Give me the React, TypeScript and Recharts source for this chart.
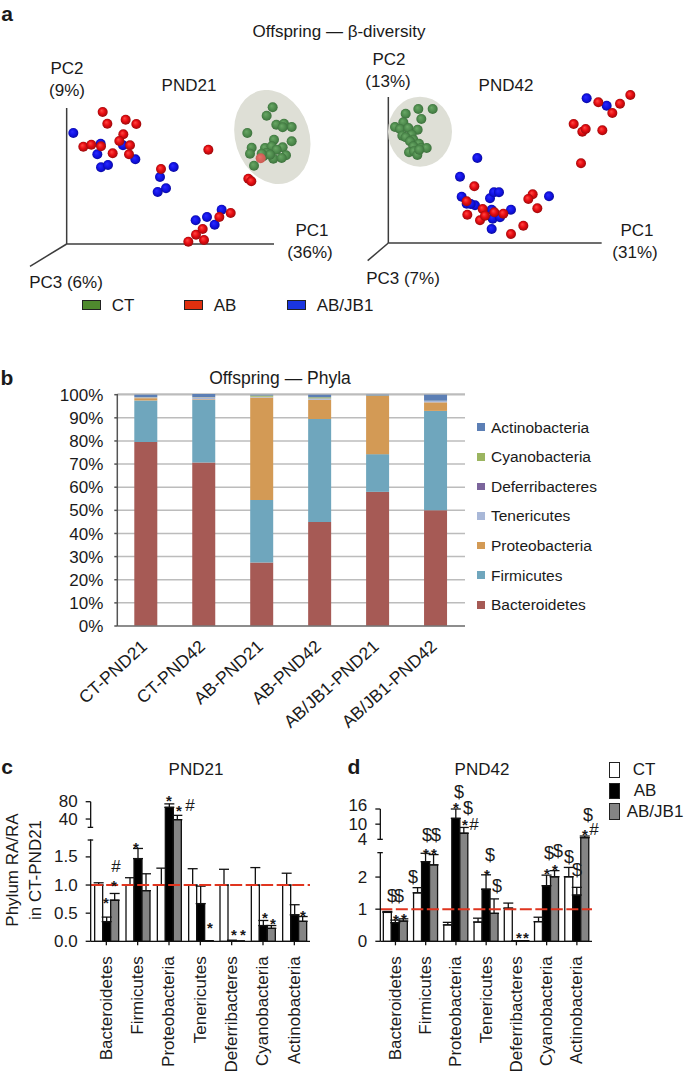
import React from 'react';
import {
  Bar, BarChart, CartesianGrid, ErrorBar, ReferenceLine, Scatter, ScatterChart, XAxis, YAxis,
} from 'recharts';

const FONT = '"Liberation Sans", Arial, sans-serif';

// panel a, ordination scores
const red21 = [[108,396],[122,361],[177,373],[209,360],[170,329],[158,309],[190,296],[138,272],[187,269],[50,292],[74,298],[103,293],[283,225],[425,283],[545,196],[554,188],[365,7],[388,28],[412,12],[408,45],[458,81],[492,93]];
const blue21 = [[20,333],[102,301],[169,296],[92,269],[206,254],[103,230],[124,237],[321,231],[280,201],[298,167],[273,156],[387,71],[421,81],[465,103],[444,58]];
const green21 = [[618,410],[600,385],[629,358],[652,361],[675,351],[648,350],[542,333],[622,313],[675,308],[555,289],[550,271],[595,288],[648,290],[615,293],[600,273],[630,283],[658,266],[620,256],[645,258],[562,235],[590,263],[610,268],[585,271]];
const faded21 = [[582,257]];
const cloud21 = [[617,321]];

const red42 = [[726,444],[630,422],[695,418],[672,390],[556,357],[582,334],[592,342],[642,338],[578,239],[258,170],[433,146],[420,132],[447,104],[405,52],[368,27],[235,125],[237,85],[275,68],[283,102],[290,82],[318,92],[345,88]];
const blue42 = [[595,434],[655,412],[267,255],[215,199],[220,139],[235,118],[260,113],[247,117],[305,134],[317,152],[332,152],[482,140],[368,100],[310,100],[313,73],[335,77],[310,42]];
const green42 = [[133,402],[90,402],[52,388],[99,372],[45,362],[20,348],[35,342],[60,345],[88,340],[42,322],[70,325],[52,317],[75,310],[65,305],[92,298],[75,290],[98,285],[115,285],[62,272],[77,275],[87,264],[93,280]];
const cloud42 = [[95,334]];

// panel b
const samples = ['CT-PND21', 'CT-PND42', 'AB-PND21', 'AB-PND42', 'AB/JB1-PND21', 'AB/JB1-PND42'];
const phyla = ['Bacteroidetes', 'Firmicutes', 'Proteobacteria', 'Tenericutes', 'Deferribacteres', 'Cyanobacteria', 'Actinobacteria'];
const phylaColors = ['#a65a55', '#6fa6bd', '#d39a55', '#a9b8d8', '#7b659c', '#9bb560', '#5c7fb5'];
const bacteroidetes = [79.5, 70.7, 27.5, 45, 58, 50];
const firmicutes = [18, 27, 27, 44.5, 16.3, 43];
const proteobacteria = [1, 0.3, 44.3, 8.3, 25.2, 3.7];
const tenericutes = [0.3, 0.8, 0.3, 0.5, 0.1, 0.6];
const deferribacteres = [0.1, 0.1, 0, 0.1, 0, 0];
const cyanobacteria = [0.1, 0.1, 0.5, 0.5, 0.1, 0.1];
const actinobacteria = [1, 1.3, 0.4, 1.1, 0.3, 2.6];
const shares = [bacteroidetes, firmicutes, proteobacteria, tenericutes, deferribacteres, cyanobacteria, actinobacteria];
const percentTicks = [0, 10, 20, 30, 40, 50, 60, 70, 80, 90, 100];
const stackData = samples.map((sample, i) => {
  const row: any = { sample };
  phyla.forEach((p, k) => { row[p] = shares[k][i]; });
  return row;
});

// panels c and d, same order as phyla
const ct21 = [1, 1, 1, 1, 1, 1, 1];
const ct21Err = [0.04, 0.13, 0.3, 0.29, 0.28, 0.31, 0.21];
const ab21 = [0.35, 1.47, 67, 0.67, 0.015, 0.28, 0.47];
const ab21Err = [0.08, 0.18, 8, 0.31, 0, 0.09, 0.18];
const jb21 = [0.73, 0.9, 38.5, 0.01, 0.003, 0.23, 0.355];
const jb21Err = [0.12, 0.3, 10, 0, 0, 0.05, 0.085];

const ct42 = [0.9, 1.51, 0.51, 0.6, 1.03, 0.61, 2.01];
const ct42Err = [0.03, 0.16, 0.08, 0.12, 0.16, 0.14, 0.29];
const ab42 = [0.58, 2.48, 12.3, 1.62, 0.01, 1.73, 1.44];
const ab42Err = [0.08, 0.26, 3.7, 0.45, 0, 0.33, 0.24];
const jb42 = [0.63, 2.38, 6.4, 0.87, 0.02, 2.01, 4.66];
const jb42Err = [0.07, 0.32, 2.3, 0.45, 0, 0.19, 0.64];

const ticks21 = [0, 0.5, 1, 1.5, 1.8, 20.8, 40, 80];
const tickLabels21 = ['0.0', '0.5', '1.0', '1.5', '', '', '40', '80'];
const ticks42 = [0, 1, 2, 2.76, 4, 10, 16];
const tickLabels42 = ['0', '1', '2', '', '4', '10', '16'];

// value -> share of the plot height, the axis is cut between the 2nd and 3rd knot
const knots21 = [[0, 0], [1.8, 0.7255], [20.8, 0.8162], [80, 1]];
const knots42 = [[0, 0], [2.76, 0.67], [4, 0.7708], [16, 1]];

const groupRows = (a: number[], aE: number[], b: number[], bE: number[], c: number[], cE: number[]) =>
  phyla.map((name, i) => ({
    name,
    ct: a[i], ctErr: [0, aE[i]],
    ab: b[i], abErr: [0, bE[i]],
    jb: c[i], jbErr: [0, cE[i]],
  }));

const data21 = groupRows(ct21, ct21Err, ab21, ab21Err, jb21, jb21Err);
const data42 = groupRows(ct42, ct42Err, ab42, ab42Err, jb42, jb42Err);

// annotations: [x, y] in page pixels
const starsC = [[106,899],[114,882],[136,844],[169,797],[179,807],[210,924],[234,931],[243,931],[265,914],[273,920],[303,912]];
const hashC = [[116,866],[190,805]];
const starsD = [[396,916],[404,915],[426,850],[434,850],[456,804],[465,821],[487,871],[519,934],[526,934],[547,870],[555,866],[585,831]];
const hashD = [[474,824],[594,829]];
const dollarsD = [[392,896],[399,896],[413,877],[427,835],[436,835],[459,792],[468,808],[490,855],[497,886],[549,853],[558,851],[569,857],[577,870],[588,815]];

const Txt = ({ x, y, s = 17, rot = 0, bold = false, children }: any) => (
  <div
    style={{
      position: 'absolute', left: x, top: y, fontFamily: FONT, fontSize: s, fontWeight: bold ? 700 : 400,
      lineHeight: 1, whiteSpace: 'nowrap', color: '#1a1a1a',
      transform: `translate(-50%, -50%) rotate(${rot}deg)`,
    }}
  >
    {children}
  </div>
);

const Box = ({ x, y, w, h, fill }: any) => (
  <div style={{ position: 'absolute', left: x, top: y, width: w, height: h, background: fill, border: '1.3px solid #222', boxSizing: 'border-box' }} />
);

const ball = (fillId: string, r: number) => (p: any) => <circle cx={p.cx} cy={p.cy} r={r} fill={`url(#${fillId})`} />;
const cloudShape = (rx: number, ry: number, rot: number) => (p: any) => (
  <ellipse cx={p.cx} cy={p.cy} rx={rx} ry={ry} fill="#dedfd6" transform={`rotate(${rot} ${p.cx} ${p.cy})`} />
);
const pts = (list: number[][]) => list.map(([x, y]) => ({ x, y }));

const axisStyle = { stroke: '#3c3c3c', strokeWidth: 1.5 };

const Ordination = ({ left, width, xDomain, yDomain, pc1, pc2, pc3, cloud, cloudProps, green, faded, red, blue }: any) => (
  <div style={{ position: 'absolute', left, top: 90 }}>
    <ScatterChart width={width} height={200} margin={{ top: 0, right: 0, bottom: 0, left: 0 }}>
      <XAxis type="number" dataKey="x" domain={xDomain} hide />
      <YAxis type="number" dataKey="y" domain={yDomain} hide />
      <Scatter data={pts(cloud)} shape={cloudShape(cloudProps[0], cloudProps[1], cloudProps[2])} isAnimationActive={false} />
      <ReferenceLine segment={[{ x: 0, y: 0 }, { x: pc1, y: 0 }]} {...axisStyle} />
      <ReferenceLine segment={[{ x: 0, y: 0 }, { x: 0, y: pc2 }]} {...axisStyle} />
      <ReferenceLine segment={[{ x: 0, y: 0 }, { x: pc3[0], y: pc3[1] }]} ifOverflow="visible" {...axisStyle} />
      <Scatter data={pts(green)} shape={ball('ballGreen', 5)} isAnimationActive={false} />
      {faded && <Scatter data={pts(faded)} shape={ball('ballFaded', 5)} isAnimationActive={false} />}
      <Scatter data={pts(blue)} shape={ball('ballBlue', 5)} isAnimationActive={false} />
      <Scatter data={pts(red)} shape={ball('ballRed', 5)} isAnimationActive={false} />
    </ScatterChart>
  </div>
);

// d3-like piecewise scale so one axis can carry both parts of the cut axis
function brokenScale(knots: number[][], rng: number[] = [0, 1]): any {
  const scale: any = (v: number) => {
    let k = 0;
    while (k < knots.length - 2 && v > knots[k + 1][0]) k++;
    const [v0, f0] = knots[k];
    const [v1, f1] = knots[k + 1];
    const f = f0 + ((v - v0) / (v1 - v0)) * (f1 - f0);
    return rng[0] + f * (rng[1] - rng[0]);
  };
  scale.domain = (d?: number[]) => (d ? scale : [knots[0][0], knots[knots.length - 1][0]]);
  scale.range = (r?: number[]) => {
    if (!r) return rng;
    rng = r;
    return scale;
  };
  scale.copy = () => brokenScale(knots, rng.slice());
  scale.ticks = () => knots.map((k) => k[0]);
  return scale;
}

const cutAxisTick = (axisX: number, values: number[], labels: string[], cuts: number[], cutPx: number) => (p: any) => {
  const v = p.payload.value;
  const isCut = cuts.includes(v);
  // the top label of panel d sits a little above its tick
  const labelY = v === 16 ? p.y - 3.5 : p.y;
  return (
    <g>
      {v === cuts[0] && <line x1={axisX} x2={axisX} y1={p.y - 0.6} y2={p.y - cutPx + 0.6} stroke="#fff" strokeWidth={3} />}
      <line x1={axisX - (isCut ? 3 : 5)} x2={axisX + (isCut ? 2.5 : 0)} y1={p.y} y2={p.y} stroke="#111" strokeWidth={1.3} />
      <text x={axisX - 13} y={labelY} textAnchor="end" dominantBaseline="central" fontFamily={FONT} fontSize={17} fill="#1a1a1a">
        {labels[values.indexOf(v)]}
      </text>
    </g>
  );
};

const verticalTick = (p: any) => (
  <text
    x={p.x} y={p.y + 9} textAnchor="end" dominantBaseline="central" fontFamily={FONT} fontSize={17} fill="#1a1a1a"
    transform={`rotate(-90 ${p.x} ${p.y + 9})`}
  >
    {p.payload.value}
  </text>
);

const slantedTick = (p: any) => (
  <text
    x={p.x + 2} y={p.y + 14} textAnchor="end" fontFamily={FONT} fontSize={17.5} fill="#1a1a1a"
    transform={`rotate(-42 ${p.x + 2} ${p.y + 14})`}
  >
    {p.payload.value}
  </text>
);

const GroupBars = ({ left, top, width, height, marginTop, marginRight, axisW, xAxisH, data, knots, values, labels, cuts, cutPx, domain }: any) => (
  <div style={{ position: 'absolute', left, top }}>
    <BarChart
      width={width} height={height} data={data} barSize={8} barGap={0}
      margin={{ top: marginTop, right: marginRight, bottom: 0, left: 0 }}
    >
      <XAxis dataKey="name" interval={0} height={xAxisH} tick={verticalTick} tickSize={4} stroke="#111" strokeWidth={1.3} />
      <YAxis
        width={axisW} domain={domain} scale={brokenScale(knots)} ticks={values} interval={0} tickLine={false}
        stroke="#111" strokeWidth={1.3} tick={cutAxisTick(axisW, values, labels, cuts, cutPx)}
      />
      <Bar dataKey="ct" fill="#fff" stroke="#111" strokeWidth={1.3} isAnimationActive={false}>
        <ErrorBar dataKey="ctErr" direction="y" width={5} stroke="#111" strokeWidth={1.3} isAnimationActive={false} />
      </Bar>
      <Bar dataKey="ab" fill="#000" stroke="#111" strokeWidth={1.3} isAnimationActive={false}>
        <ErrorBar dataKey="abErr" direction="y" width={5} stroke="#111" strokeWidth={1.3} isAnimationActive={false} />
      </Bar>
      <Bar dataKey="jb" fill="#858585" stroke="#111" strokeWidth={1.3} isAnimationActive={false}>
        <ErrorBar dataKey="jbErr" direction="y" width={5} stroke="#111" strokeWidth={1.3} isAnimationActive={false} />
      </Bar>
      <ReferenceLine y={1} stroke="#e0351f" strokeWidth={2} strokeDasharray="12 3.5" />
    </BarChart>
  </div>
);

export default function App() {
  return (
    <div style={{ position: 'absolute', left: 0, top: 0, width: 685, height: 1073, background: '#fff', overflow: 'hidden' }}>
      <svg width={0} height={0} style={{ position: 'absolute' }}>
        <defs>
          <radialGradient id="ballRed" cx="50%" cy="50%" r="55%" fx="38%" fy="35%">
            <stop offset="0%" stopColor="#ff4a44" /><stop offset="50%" stopColor="#e80c12" /><stop offset="100%" stopColor="#8e0a0a" />
          </radialGradient>
          <radialGradient id="ballBlue" cx="50%" cy="50%" r="55%" fx="38%" fy="35%">
            <stop offset="0%" stopColor="#2a2aff" /><stop offset="60%" stopColor="#0f10e0" /><stop offset="100%" stopColor="#0a0a90" />
          </radialGradient>
          <radialGradient id="ballGreen" cx="50%" cy="50%" r="55%" fx="38%" fy="35%">
            <stop offset="0%" stopColor="#6aa866" /><stop offset="60%" stopColor="#4d8a4c" /><stop offset="100%" stopColor="#3a6c3a" />
          </radialGradient>
          <radialGradient id="ballFaded" cx="50%" cy="50%" r="55%" fx="38%" fy="35%">
            <stop offset="0%" stopColor="#e8706a" /><stop offset="100%" stopColor="#c85a50" />
          </radialGradient>
        </defs>
      </svg>

      <Ordination
        left={0} width={340} xDomain={[-200, 820]} yDomain={[-138, 462]} pc1={622} pc2={408} pc3={[-110, -67]}
        cloud={cloud21} cloudProps={[37, 48, -18]} green={green21} faded={faded21} red={red21} blue={blue21}
      />
      <Ordination
        left={340} width={345} xDomain={[-145, 890]} yDomain={[-141, 459]} pc1={640} pc2={438} pc3={[-62, -53]}
        cloud={cloud42} cloudProps={[32, 35, 0]} green={green42} red={red42} blue={blue42}
      />

      <Txt x={7} y={13} s={21} bold>a</Txt>
      <Txt x={339} y={31}>Offspring — β-diversity</Txt>
      <Txt x={67} y={68}>PC2</Txt>
      <Txt x={67} y={90}>(9%)</Txt>
      <Txt x={189} y={85}>PND21</Txt>
      <Txt x={312} y={230}>PC1</Txt>
      <Txt x={310} y={252}>(36%)</Txt>
      <Txt x={66} y={282}>PC3 (6%)</Txt>
      <Txt x={389} y={59}>PC2</Txt>
      <Txt x={388} y={81}>(13%)</Txt>
      <Txt x={506} y={85}>PND42</Txt>
      <Txt x={637} y={230}>PC1</Txt>
      <Txt x={635} y={252}>(31%)</Txt>
      <Txt x={403} y={278}>PC3 (7%)</Txt>
      <Box x={82} y={300} w={19} h={10} fill="#4f8a2e" />
      <Txt x={123} y={305}>CT</Txt>
      <Box x={184} y={300} w={19} h={10} fill="#e0300f" />
      <Txt x={225} y={305}>AB</Txt>
      <Box x={287} y={300} w={19} h={10} fill="#1a35e0" />
      <Txt x={345} y={305}>AB/JB1</Txt>

      <div style={{ position: 'absolute', left: 0, top: 385 }}>
        <BarChart width={475} height={360} data={stackData} barSize={23} margin={{ top: 9, right: 10, bottom: 0, left: 0 }}>
          <CartesianGrid vertical={false} stroke="#bcbcbc" strokeWidth={1.5} />
          <XAxis dataKey="sample" interval={0} height={119} tick={slantedTick} tickLine={false} stroke="#777" strokeWidth={1.5} />
          <YAxis
            width={117.3} domain={[0, 100]} ticks={percentTicks} interval={0} tickFormatter={(v) => `${v}%`} tickSize={3} tickMargin={11}
            stroke="#555" strokeWidth={1.5} tick={{ fontFamily: FONT, fontSize: 17, fill: '#1a1a1a' }}
          />
          {phyla.map((p, k) => (
            <Bar key={p} dataKey={p} stackId="a" fill={phylaColors[k]} isAnimationActive={false} />
          ))}
        </BarChart>
      </div>
      <Txt x={7} y={377} s={21} bold>b</Txt>
      <Txt x={280} y={379} s={17.5}>Offspring — Phyla</Txt>
      {phyla.slice().reverse().map((p, i) => (
        <React.Fragment key={p}>
          <div style={{ position: 'absolute', left: 477.3, top: 423.3 + i * 29.6, width: 8, height: 7.7, background: phylaColors[6 - i] }} />
          <div style={{ position: 'absolute', left: 491, top: 427.5 + i * 29.6, transform: 'translateY(-50%)', fontFamily: FONT, fontSize: 15.5, lineHeight: 1, color: '#1a1a1a' }}>{p}</div>
        </React.Fragment>
      ))}

      <GroupBars
        left={0} top={790} width={320} height={283} marginTop={11.7} marginRight={10} axisW={90.67} xAxisH={131.7}
        data={data21} knots={knots21} values={ticks21} labels={tickLabels21} cuts={[1.8, 20.8]} cutPx={12.7} domain={[0, 80]}
      />
      <GroupBars
        left={300} top={795} width={300} height={278} marginTop={14} marginRight={8} axisW={80.33} xAxisH={131.7}
        data={data42} knots={knots42} values={ticks42} labels={tickLabels42} cuts={[2.76, 4]} cutPx={13.3} domain={[0, 16]}
      />

      <Txt x={7} y={766} s={21} bold>c</Txt>
      <Txt x={196} y={769}>PND21</Txt>
      <Txt x={12} y={870} rot={-90}>Phylum RA/RA</Txt>
      <Txt x={35} y={870} rot={-90}>in CT-PND21</Txt>
      <Txt x={354} y={766} s={21} bold>d</Txt>
      <Txt x={482} y={769}>PND42</Txt>
      <Box x={609} y={762} w={11} h={16} fill="#fff" />
      <Box x={609} y={782.5} w={11} h={16} fill="#000" />
      <Box x={609} y={803} w={11} h={17} fill="#858585" />
      <Txt x={644} y={769}>CT</Txt>
      <Txt x={645} y={790}>AB</Txt>
      <Txt x={655} y={811}>AB/JB1</Txt>

      {[...starsC, ...starsD].map(([x, y], i) => <Txt key={`s${i}`} x={x} y={y + 3} s={15} bold>*</Txt>)}
      {[...hashC, ...hashD].map(([x, y], i) => <Txt key={`h${i}`} x={x} y={y} s={17}>#</Txt>)}
      {dollarsD.map(([x, y], i) => <Txt key={`d${i}`} x={x} y={y} s={18}>$</Txt>)}
    </div>
  );
}
